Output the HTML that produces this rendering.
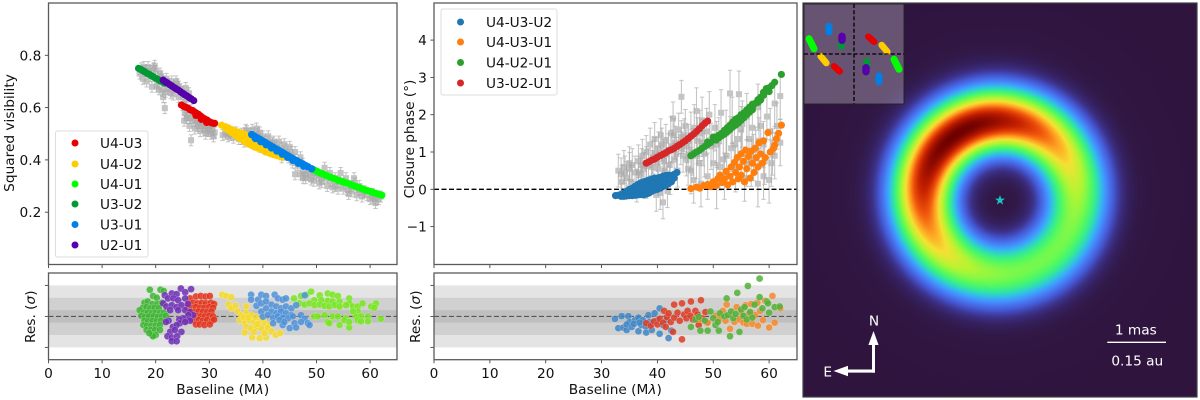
<!DOCTYPE html>
<html lang="en">
<head>
<meta charset="utf-8">
<title>Interferometric fit and disc image</title>
<style>
html,body{margin:0;padding:0;background:#fff;}
#stage{position:relative;width:1200px;height:400px;overflow:hidden;background:#fff;}
#disc-canvas{position:absolute;left:803px;top:3px;width:394px;height:394px;display:block;}
#plot{position:absolute;left:0;top:0;}
text{font-family:"DejaVu Sans","Liberation Sans",sans-serif;fill:#111;}
</style>
</head>
<body>
<div id="stage">
<canvas id="disc-canvas" width="394" height="394"></canvas>
<svg id="plot" width="1200" height="400" viewBox="0 0 1200 400" xmlns="http://www.w3.org/2000/svg"></svg>
</div>
<script>
// ---------- tick labels ----------
const baselineTicks = [0,10,20,30,40,50,60];
const visTicks = [0.2,0.4,0.6,0.8];
const phaseTicks = [-1,0,1,2,3,4];
const resTicks = [-5,0,5];
const resBands = [5,3,1];

// ---------- squared visibility: observed ----------
const visObsX = [17,17.3,17.6,18,18.3,18.6,19,19.3,19.6,20,20.3,20.6,21,21.2,21.4,21.7,22,22.3,22.6,23,23.3,23.6,24,24.3,24.6,25,25,25.3,25.5,25.8,26,26.6,26.3,26.6,27,27.3,27.6,28,28.3,28.6,29,29.3,29.6,30,30.3,30.6,31,32.5,33,33.5,34,34.5,35,35.5,36,36.5,37,37.5,38,38.5,39,39.5,40,40.5,41,41.5,42,42.5,43,43.5,44,44.5,45,45.5,46,46.5,47,46,47,47.5,48,48.5,49,49.5,50,50.5,51,51.5,52,52.5,53,53.5,54,54.5,55,55.5,56,56.5,57,57.5,58,58.5,59,60,60.5,61,61,62,17.8,18.8,19.8,20.8,20.2,21.6,21.8,22.8,23.8,24.3,25.2,25.6,26.2,25.4,25.8,26.4,27,27.4,27.8,28.2,28.6,29.2,29.8,30.2,30.8,33.6,34.8,36,36.8,37.8,38.8,39.4,40.2,41,41.8,42.6,43.4,44.2,44.8,45.2,46,47.4,47.5,48,48.8,49.6,50.4,51,51.8,52.6,53.4,54.2,55,55.8,56.6,57.2,57.8,58.6,59.4,60.4,61.6];
const visObsY = [0.73,0.75,0.71,0.74,0.70,0.755,0.72,0.68,0.75,0.74,0.70,0.67,0.72,0.665,0.64,0.598,0.71,0.67,0.69,0.70,0.65,0.68,0.69,0.64,0.67,0.61,0.66,0.55,0.60,0.63,0.57,0.475,0.53,0.59,0.55,0.52,0.57,0.54,0.51,0.55,0.53,0.50,0.535,0.52,0.50,0.515,0.505,0.495,0.50,0.49,0.495,0.485,0.505,0.48,0.50,0.47,0.51,0.47,0.515,0.46,0.50,0.45,0.49,0.44,0.49,0.44,0.47,0.43,0.47,0.41,0.46,0.42,0.45,0.39,0.43,0.38,0.41,0.345,0.345,0.33,0.33,0.36,0.325,0.32,0.345,0.31,0.33,0.37,0.30,0.35,0.295,0.33,0.29,0.35,0.29,0.33,0.27,0.30,0.33,0.265,0.30,0.26,0.28,0.25,0.27,0.25,0.235,0.26,0.755,0.74,0.76,0.73,0.68,0.70,0.66,0.655,0.70,0.68,0.645,0.675,0.655,0.58,0.56,0.56,0.58,0.55,0.53,0.56,0.53,0.515,0.51,0.53,0.49,0.50,0.50,0.48,0.515,0.50,0.52,0.505,0.47,0.47,0.465,0.45,0.445,0.44,0.41,0.43,0.40,0.385,0.35,0.345,0.34,0.35,0.34,0.315,0.335,0.32,0.30,0.315,0.31,0.285,0.28,0.31,0.285,0.275,0.265,0.255,0.25];
const visObsErr = 0.021;

// ---------- squared visibility: model ----------
const visU4U3X = [24.8,25.2,25.6,26,26.4,26.8,27.2,27.6,28,28.4,28.8,29.2,29.6,30,30.4,30.8,31,27.5,28.5,29.5];
const visU4U3Y = [0.61,0.605,0.602,0.598,0.592,0.589,0.584,0.578,0.574,0.567,0.561,0.556,0.552,0.546,0.542,0.54,0.54,0.57,0.555,0.543];
const visU4U2X = [32.3,33,33.6,34.2,34.8,35.4,36,36.6,37.2,37.8,38.4,39,33,33.6,34.2,34.8,35.4,36,36.6,37.2,37.8,38.4,39,39.6,40.2,40.8,41.4,42,42.6,43.2,43.8,35.4,36,36.6,37.2,37.8,38.4,39,39.6,40.2];
const visU4U2Y = [0.533,0.527,0.522,0.516,0.51,0.506,0.502,0.497,0.492,0.487,0.48,0.47,0.523,0.513,0.504,0.495,0.486,0.478,0.47,0.462,0.456,0.45,0.445,0.44,0.434,0.429,0.424,0.42,0.416,0.413,0.41,0.496,0.49,0.484,0.477,0.472,0.465,0.458,0.452,0.447];
const visU4U1X = [49.1,49.6,50.1,50.6,51.1,51.6,52.1,52.6,53.1,53.6,54.1,54.6,55.1,55.6,56.1,56.6,57.1,57.6,58.1,58.6,59.1,59.6,60.1,60.6,61.1,61.6,62.2];
const visU4U1Y = [0.366,0.361,0.356,0.351,0.347,0.342,0.338,0.334,0.33,0.326,0.322,0.318,0.315,0.312,0.308,0.304,0.3,0.296,0.293,0.289,0.285,0.282,0.279,0.275,0.272,0.269,0.265];
const visU3U2X = [16.8,17.2,17.6,18,18.4,18.8,19.2,19.6,20,20.4,20.8,21.2,21.6];
const visU3U2Y = [0.75,0.746,0.741,0.736,0.731,0.727,0.722,0.717,0.712,0.708,0.703,0.699,0.694];
const visU3U1X = [37.9,38.4,38.9,39.4,39.9,40.4,40.9,41.4,41.9,42.4,42.9,43.4,43.9,44.4,44.9,45.4,45.9,46.4,46.9,47.4,47.9,48.4,49.1,38.6,39.6,40.6,41.6,42.6,43.6,44.6,45.6,46.6,47.6];
const visU3U1Y = [0.497,0.491,0.485,0.479,0.473,0.467,0.461,0.455,0.449,0.443,0.437,0.431,0.425,0.419,0.413,0.407,0.401,0.396,0.39,0.385,0.379,0.374,0.366,0.482,0.47,0.458,0.446,0.434,0.422,0.41,0.398,0.387,0.376];
const visU2U1X = [21.4,21.8,22.2,22.6,23,23.4,23.8,24.2,24.6,25,25.4,25.8,26.2,26.6,27.1];
const visU2U1Y = [0.705,0.699,0.694,0.688,0.683,0.677,0.672,0.667,0.661,0.655,0.65,0.645,0.639,0.634,0.627];

// ---------- squared visibility: residuals ----------
const resU4U3X = [26.4,27.5,28.4,29.3,30.1,26.2,27,27.8,28.6,29.4,30.3,30.9,25.9,26.7,27.5,28.3,29.1,30,30.7,26.4,27.2,28,28.8,29.6,30.4,26,26.8,27.6,28.4,29.2,30,30.7,25.6,27.2,28,28.8,29.6,30.5,27.5,28.2,29.1,30.1,30.9];
const resU4U3Y = [2.9,3.2,3.3,3.2,3.3,2.1,2.2,2.1,2.2,2.1,2.2,2.0,1.4,1.4,1.5,1.4,1.4,1.5,1.4,.7,.7,.8,.7,.7,.8,0,0,.1,0,0,.1,0,-.7,-.7,-.6,-.7,-.6,-.7,-1.3,-1.3,-1.4,-1.3,-.5];
const resU4U2X = [32.4,33.2,34.1,33.6,34.1,34.9,36.9,35.3,35.96,36.9,37.8,35.7,36.6,37.5,38.4,39.4,40.3,41.2,36.9,37.8,38.8,39.7,40.9,36.6,38,38.3,39.4,40.6,40.3,41.6,42.4,43.2,36.4,37.2,38.6,39,40];
const resU4U2Y = [3.5,3.3,3.1,1.9,1.3,1.7,1.6,.8,.2,.5,.2,-.6,-.9,-.6,-.9,-.6,-1.1,-1.4,-1.7,-1.9,-1.7,-1.9,-1.9,-2.6,-3.4,-2.5,-3.5,-3.4,-2.7,-2.4,-3,-2.7,-.1,-.2,-.1,-1.2,-.4];
const resU4U1X = [45.8,47.1,48.1,49,50.6,52.1,53,54,56.1,49.6,50.9,52.1,53,54.3,56.1,46.8,47.8,48.7,49.6,50.6,51.5,52.4,53.4,54.3,55.5,56.8,57.7,58.6,60.2,61.1,57.7,56.8,49.6,50.2,51.5,53,54,55.5,57.4,58.3,59.6,62,52.1,52.4,54.3,55.2,56.1,56.1,57.7,58.3,59.6,60.8];
const resU4U1Y = [2.9,3.3,3.5,4,3.4,3.7,3.5,3.3,2.9,2.6,2.6,2.5,2.4,2.4,2.1,2.1,1.9,2.1,1.8,1.9,1.7,1.6,1.8,1.6,1.8,1.6,1.6,2.1,1.6,2.1,.8,.8,0,0,.2,0,0,-.3,0,0,0,-.4,-.9,-1.1,-1.4,-.6,-1.8,-.9,-.6,-.8,-.8,1.4];
const resU3U2X = [18.9,20.9,21.5,19.5,20.2,17.9,18.5,19.4,20.3,21.2,17.6,18.3,19,19.8,20.6,17,17.8,18.5,19.3,20,20.8,21.5,17.3,18,18.8,19.6,20.4,21.2,21.9,17.9,18.6,19.4,20.2,21,17.7,18.4,19.2,20,20.8,18.3,19.1,19.9,20.8,19.3,20,19.5,18.8];
const resU3U2Y = [4.3,4.3,4.1,3.3,3,2.2,2.4,2,2,2.2,1.4,1.5,1.3,1.4,1.3,1,.6,.6,.5,.6,.5,.6,.1,-.1,0,0,-.1,0,.1,-.7,-.8,-.7,-.8,-.7,-1.4,-1.5,-1.5,-1.5,-1.4,-2.2,-2.2,-2.2,-2.2,-3,-3,-3.2,-2.7];
const resU3U1X = [37.8,39.1,39.7,40.6,42.2,42.8,43.7,44.3,47.8,37.8,38.8,39.7,40.6,41.6,42.5,43.4,44.3,45.3,46.2,39.7,40.6,41.6,42.5,43.4,44.3,45.3,40,40.9,41.9,42.8,43.7,44.7,45.6,47.1,47.8,41.9,43.7,45,45.9,47.1,48.4,48.7,46.2,43.1,44];
const resU3U1Y = [3.5,2.7,3.5,3.3,3.5,2.9,2.7,2.9,3.4,2.7,1.7,2.1,2.4,1.9,1.6,1.3,1.6,1.3,1.8,.8,1.3,.8,.5,.8,.5,.2,-.05,.2,-.2,0,-.2,-.3,0,.2,-.4,-1.1,-1.4,-1.9,-1.1,-.9,-1.1,-1.4,-1.8,-.6,-.9];
const resU2U1X = [24.7,26.6,25.5,21.7,23,23.9,21.4,22.3,23.3,24.2,25.5,22,23,23.9,24.8,26,22.7,24.2,25.5,26.4,27,26.1,26.1,25.1,24.4,26.4,22.4,21.9,24.5,25.5,23.2,23.9,22.7,23.6,24.8,22.2,23,24,23,23.9];
const resU2U1Y = [4.5,4.4,3.9,3.4,3.7,3.6,2.1,2.9,2.9,2.6,2.9,1.6,1.8,1.5,1.8,2,1,1,1,.7,.2,.2,-.5,-.3,-.5,-.7,-.7,-.9,-1.1,-.9,-1.7,-1.4,-2.5,-2.2,-2.5,-3.2,-3.4,-3.2,-4,-4];

// ---------- closure phase: observed ----------
const phaseObsX = [33,33.5,34,34.5,35,35.3,35.5,36,36.3,36.6,37,37.3,37.6,38,38,38.4,38.7,39,39.2,39.5,39.8,40,40.2,40.5,40.6,41,41,41.3,41.5,41.8,42,42.3,42.4,42.8,43,43.2,43.6,44.3,44.3,44.6,45,45.3,45.5,46,46,46.5,47,47.2,47.5,47.8,48,48.4,48.8,49,49.3,49.6,50,50.3,50.6,51,51.4,51.8,52,52.3,53,53.4,53.8,54,54.6,55,55,55.6,56,56.4,56.8,57,57.6,58,58,58.5,59,59,59.6,60,60.4,60.6,61,61.4,62,62,39,39.6,40.2,40.8,41.2,41.6,42.2,42.6,43,43.4,43.8,44.2,44.8,45.2,45.6,46.2,46.6,47,47.6,48.2,33.6,34.2,35,36.6,37.2,38,50.6,51.2,52.4,53.2,54.4,55.2,56,57.2,58.2,59.2,60.2,61];
const phaseObsY = [0.5,0.4,0.6,0.3,0.55,0.2,0.65,0.45,0.1,0.75,0.4,0.9,0.55,0.2,1,0.65,1.2,0.3,0.85,1.35,-0.15,0.7,1.1,-0.1,1.45,0.9,-0.35,0.5,1.3,-0.05,1.05,0.3,1.5,1.9,0.8,1.25,0.5,2.48,1.4,0.9,1.7,1.15,0.55,1.45,0.5,0.25,2.1,1.3,0.7,0.15,1.85,0.95,1.55,0.35,2,1.15,0.7,1.65,0.1,1.3,2.05,0.8,0.35,1.5,2.57,1.85,1.2,0.55,2.55,1.6,0.95,0.3,1.95,1.35,0.7,1.65,1.05,0.15,2.2,1.7,0.35,1.2,1.95,0.25,0.7,1,2.3,1.7,2.5,1.25,0.6,0.95,0.55,1.2,0.75,0.95,0.65,1.15,1.45,0.95,1.6,1.1,1.45,0.8,1.3,1,1.65,0.9,1.5,1.25,0.2,0.45,0.7,0.45,0.65,0.7,1.2,0.6,0.9,1.1,1.35,1.75,0.7,0.85,1.3,0.75,1.55,0.9];
const phaseErrNear = 0.44;
const phaseErrFar = 0.62;

// ---------- closure phase: model ----------
const phaseU4U3U2X = [32.5,33,33.5,34,34.5,35,35.5,36,36.5,37,37.5,38,38.5,39,39.5,40,40.5,41,41.5,42,42.5,43,43.5,33.5,34,34.5,35,35.5,36,36.5,37,37.5,38,38.5,39,39.5,40,40.5,41,41.5,42,42.5,43,35,35.5,36,36.5,37,37.5,38,38.5,39,39.5,40,40.5,41,41.5];
const phaseU4U3U2Y = [-0.17,-0.16,-0.14,-0.1,-0.05,0,0.03,0.08,0.13,0.17,0.2,0.22,0.25,0.27,0.3,0.3,0.32,0.35,0.37,0.38,0.37,0.4,0.45,-0.19,-0.19,-0.18,-0.17,-0.17,-0.16,-0.15,-0.14,-0.15,-0.13,-0.1,-0.05,-0.02,0,0.03,0.08,0.1,0.15,0.2,0.3,-0.08,-0.06,-0.04,-0.01,0.02,0.03,0.05,0.08,0.11,0.14,0.16,0.18,0.22,0.24];
const phaseU4U3U1X = [46,47,47.6,48.3,49,49.5,50,50.5,50.8,51.2,51.6,52,52.3,52.6,53,53.2,53.5,53.8,54,54.3,54.5,54.7,55,55,55.4,55.6,55.8,56,56.3,56.6,56.8,57,57.3,57.5,57.7,58,58.2,58.5,58.8,59,59.3,59.8,60.2,60.8,61,61.3,61.7,62.2];
const phaseU4U3U1Y = [0.02,0.06,0.03,0.1,0.13,0.07,0.2,0.1,0.28,0.38,0.18,0.28,0.48,0.12,0.35,0.6,0.2,0.72,0.45,0.85,0.28,0.6,0.95,0.38,0.75,0.2,1.05,0.55,0.88,0.3,1.02,0.7,0.45,1.1,0.85,0.6,1.25,0.95,0.7,1.3,0.85,1.52,1,1.1,1.18,1.35,1.5,1.72];
const phaseU4U2U1X = [46,46.5,47,47.5,48,48.5,49,49,49.5,50,50,50.5,50.5,51,51,51.5,51.5,52,52,52.5,52.5,53,53,53.5,53.5,54,54,54.5,54.5,55,55,55.5,55.5,56,56,56.5,56.5,57,57,57.5,58,58.5,59,59.5,60,60.5,61,62.2,53,54,55,56,57,58,58.5,59,60];
const phaseU4U2U1Y = [0.9,0.95,1,1.04,1.1,1.15,1.2,1.27,1.25,1.33,1.4,1.4,1.32,1.45,1.38,1.5,1.43,1.58,1.48,1.65,1.54,1.72,1.6,1.8,1.67,1.88,1.72,1.92,1.78,2,1.85,2.05,1.92,2.13,2,2.2,2.07,2.28,2.13,2.3,2.4,2.47,2.52,2.7,2.72,2.78,2.87,3.08,1.66,1.8,1.93,2.06,2.2,2.33,2.4,2.6,2.62];
const phaseU3U2U1X = [38,38.5,39,39.5,40,40.5,41,41.5,42,42.5,43,43.5,44,44.5,45,45.5,46,46.5,47,47.5,48,48.5,49];
const phaseU3U2U1Y = [0.7,0.74,0.78,0.81,0.86,0.9,0.94,0.98,1.03,1.06,1.1,1.15,1.2,1.25,1.3,1.36,1.42,1.48,1.55,1.62,1.7,1.77,1.83];

// ---------- closure phase: residuals ----------
const cpResBlueX = [32.4,33.6,34.8,33,33.9,34.5,35,36,36.6,34.5,35.4,36.6,37.1,38,39,37.4,38.4,38.6,39.5,40.4,40.1,40.4,41,42,42.5,41.6,35.8,36.8,37.9,38.9];
const cpResBlueY = [-0.4,0.05,0.05,-1.9,-1.8,-2.2,-0.9,-0.6,-0.2,-1.3,-1.7,-2.4,-1.4,-2.6,-2.2,-0.6,0.2,-0.9,0.5,1.3,-0.6,-2.8,-1.4,-3.5,-2.3,-0.6,-1.2,-1,-1.6,-1.1];
const cpResOrangeX = [47.5,49,50.4,51,51.7,52.2,52.4,53,53.3,53.8,54.2,54.7,55,55.4,55.8,56,56.4,56.8,57,57.5,57.9,58,58.4,58.9,59.3,60,60.6,61,62];
const cpResOrangeY = [-0.5,-1,0.1,-0.5,0.9,-0.7,1.9,-2,0.3,-0.9,1.5,-0.5,0.7,-1,1.8,-1.2,0.4,2,-1.2,0.2,2.2,-1.5,0.9,-0.6,2.5,-1.8,3.3,-1,1.3];
const cpResRedX = [38,38.8,39.4,40,40.4,41,41.2,41.7,42,42.4,43,43,43.6,44,44.4,44.4,44.8,45.2,45.4,45.9,46,46.4,46.8,47.2,47.8,47.4,48,48.6,48.9,47.4,42.8,41.5];
const cpResRedY = [-1.1,-1.5,-0.8,-1.3,-0.4,-1,0.9,-0.1,0.5,-0.9,1.9,-0.2,0.6,-0.7,2.1,-3.7,0.3,-0.3,0.9,0.1,2.4,-0.5,0.9,0.3,2.6,-0.7,-0.3,0.7,-1,-1.4,-2.5,-1.7];
const cpResGreenX = [46,46.8,47.4,47.7,48.5,49,49.5,50,50.4,50.8,51,51.2,52,52.4,52.6,53,53.2,53.6,54,54.3,54.7,55,55.4,55.6,56.2,56,56.6,57.4,57,58.3,58.3,58.8,59.6,59.8,60,61,61.9];
const cpResGreenY = [-1.7,-0.5,-0.1,-2.3,-0.7,-2.3,0.8,-0.3,-1.4,-0.9,-2.3,0.5,0,2.9,0.2,-3.2,0.8,-0.3,0.4,3.8,-2.5,1.1,0.1,1.5,4.9,-0.5,0.7,1.9,-0.2,6.1,3.1,1.3,2.4,2.1,0.6,1.5,1.6];

// ---------- u-v coverage inset (half tracks, mirrored through the origin) ----------
const uvRedU = [18.6,26];
const uvRedV = [22.5,16];
const uvYellowU = [36,43.3];
const uvYellowV = [11.7,3];
const uvLimeU = [52,58.5];
const uvLimeV = [-6.9,-19.9];
const uvGreenU = [16.5,16.5];
const uvGreenV = [-10,-14.3];
const uvBlueU = [32.5,32.5];
const uvBlueV = [-28.6,-36];
const uvPurpleU = [15.6,15.6];
const uvPurpleV = [-17.8,-23];

// ---------- axis functions ----------
const xL = v => 48.5 + v * 5.36;
const xM = v => 434 + v * 5.585;
const yVis = v => 264.5 - v * 261.5;
const yPhase = v => 189.3 - v * 37.3;
const yRes = v => 316.4 - v * 6.2;
const uvX = u => 854 + u * 0.769;
const uvY = v => 54 - v * 0.769;

const svg = document.getElementById('plot');
const NS = 'http://www.w3.org/2000/svg';
const FS = 13.7;
function el(tag, attrs, parent) {
  const n = document.createElementNS(NS, tag);
  for (const k in attrs) n.setAttribute(k, attrs[k]);
  (parent || svg).appendChild(n);
  return n;
}
function group(name) {
  const g = el('g', {});
  
  
  return g;
}
function label(parent, name, str, x, y, size, anchor, rot) {
  const t = el('text', {x: x, y: y, 'font-size': size, 'text-anchor': anchor || 'middle'}, parent);
  if (rot) t.setAttribute('transform', 'rotate(-90 ' + x + ' ' + y + ')');
  t.textContent = str;
  
  
  return t;
}
function frame(name, x0, y0, x1, y1) {
  const r = el('rect', {x: x0, y: y0, width: x1 - x0, height: y1 - y0, fill: 'none', stroke: '#5a5a5a', 'stroke-width': 1.3});
  
  
}
function xTicks(g, fx, yb, withLabels) {
  baselineTicks.forEach(v => {
    const t = el('line', {x1: fx(v), x2: fx(v), y1: yb, y2: yb + 3.6, stroke: '#444', 'stroke-width': 0.9}, g);
    
    
    if (withLabels) label(g, 'x-tick-label', String(v), fx(v), 378, FS);
  });
}
function yTicks(g, x0, fy, vals, fmt) {
  vals.forEach(v => {
    const t = el('line', {x1: x0 - 3.6, x2: x0, y1: fy(v), y2: fy(v), stroke: '#444', 'stroke-width': 0.9}, g);
    
    
    if (fmt) label(g, 'y-tick-label', fmt(v), x0 - 7.2, fy(v) + 5, FS, 'end');
  });
}
function dots(g, name, xs, ys, fx, fy, r, fill, extra) {
  const n = Math.min(xs.length, ys.length);
  for (let i = 0; i < n; i++) {
    const c = el('circle', Object.assign({cx: fx(xs[i]), cy: fy(ys[i]), r: r, fill: fill}, extra || {}), g);
    
    
  }
}
function grayBars(g, name, xs, ys, fx, fy, errFor) {
  const n = Math.min(xs.length, ys.length);
  for (let i = 0; i < n; i++) {
    const px = fx(xs[i]);
    const e = errFor(xs[i]);
    const top = fy(ys[i] + e), bot = fy(ys[i] - e);
    const pt = el('g', {opacity: 0.68}, g);
    
    
    el('line', {x1: px, x2: px, y1: top, y2: bot, stroke: '#a8a8a8', 'stroke-width': 1.1}, pt);
    el('line', {x1: px - 2.2, x2: px + 2.2, y1: top, y2: top, stroke: '#a8a8a8', 'stroke-width': 1}, pt);
    el('line', {x1: px - 2.2, x2: px + 2.2, y1: bot, y2: bot, stroke: '#a8a8a8', 'stroke-width': 1}, pt);
    el('rect', {x: px - 3, y: fy(ys[i]) - 3, width: 6, height: 6, fill: '#a8a8a8'}, pt);
  }
}
function bands(g, x0, x1) {
  const shades = ['#e4e4e4', '#d0d0d0', '#bfbfbf'];
  resBands.forEach((b, i) => {
    const r = el('rect', {x: x0, y: yRes(b), width: x1 - x0, height: yRes(-b) - yRes(b), fill: shades[i]}, g);
    
    
  });
}
function zeroLine(g, x0, x1, y, color, w, dash) {
  const l = el('line', {x1: x0, x2: x1, y1: y, y2: y, stroke: color, 'stroke-width': w, 'stroke-dasharray': dash}, g);
  
  
}
function mathLabel(g, name, before, sym, after, x, y, size, rot) {
  const t = label(g, name, '', x, y, size, 'middle', rot);
  t.appendChild(document.createTextNode(before));
  const s = el('tspan', {'font-style': 'italic'}, t);
  s.textContent = sym;
  t.appendChild(document.createTextNode(after));
}
function legend(name, x0, y0, w, h, entries, dotX, textX, ys) {
  const g = group(name);
  const box = el('rect', {x: x0, y: y0, width: w, height: h, rx: 2, fill: '#fff', 'fill-opacity': 0.85, stroke: '#ddd', 'stroke-width': 1}, g);
  
  
  entries.forEach((e, i) => {
    const c = el('circle', {cx: dotX, cy: ys[i], r: 3.5, fill: e[1]}, g);
    
    
    label(g, 'legend-entry', e[0], textX, ys[i] + 5, FS, 'start');
  });
}

// ---------- left top panel ----------
const gVis = group('visibility-panel');
grayBars(gVis, 'observed-visibility', visObsX, visObsY, xL, yVis, () => visObsErr);
const C_RED = '#e60000', C_YEL = '#ffcc00', C_LIME = '#00ff00', C_GRN = '#009933', C_BLU = '#0080e6', C_PUR = '#5500aa';
dots(gVis, 'model-u4-u3', visU4U3X, visU4U3Y, xL, yVis, 3.6, C_RED);
dots(gVis, 'model-u4-u2', visU4U2X, visU4U2Y, xL, yVis, 3.6, C_YEL);
dots(gVis, 'model-u4-u1', visU4U1X, visU4U1Y, xL, yVis, 3.6, C_LIME);
dots(gVis, 'model-u3-u2', visU3U2X, visU3U2Y, xL, yVis, 3.6, C_GRN);
dots(gVis, 'model-u3-u1', visU3U1X, visU3U1Y, xL, yVis, 3.7, C_BLU);
dots(gVis, 'model-u2-u1', visU2U1X, visU2U1Y, xL, yVis, 3.6, C_PUR);
frame('visibility-frame', 48.5, 3, 397, 264.5);
xTicks(gVis, xL, 264.5, false);
yTicks(gVis, 48.5, yVis, visTicks, v => v.toFixed(1));
label(gVis, 'y-axis-title', 'Squared visibility', 14, 133, FS, 'middle', true);
legend('visibility-legend', 55.5, 131, 92.5, 126, [['U4-U3', C_RED], ['U4-U2', C_YEL], ['U4-U1', C_LIME], ['U3-U2', C_GRN], ['U3-U1', C_BLU], ['U2-U1', C_PUR]], 75, 100, [143, 164, 184, 204, 224.5, 245]);

// ---------- left residual panel ----------
const gResL = group('visibility-residual-panel');
bands(gResL, 48.5, 397);
zeroLine(gResL, 48.5, 397, yRes(0), '#555', 1.1, '5 2.5');
const resStyle = {'fill-opacity': 0.85, stroke: '#fff', 'stroke-opacity': 0.4, 'stroke-width': 0.5};
dots(gResL, 'residual-u4-u3', resU4U3X, resU4U3Y, xL, yRes, 3.5, '#e2341c', resStyle);
dots(gResL, 'residual-u4-u2', resU4U2X, resU4U2Y, xL, yRes, 3.5, '#f5d92c', resStyle);
dots(gResL, 'residual-u4-u1', resU4U1X, resU4U1Y, xL, yRes, 3.5, '#78e620', resStyle);
dots(gResL, 'residual-u3-u2', resU3U2X, resU3U2Y, xL, yRes, 3.5, '#3fb534', resStyle);
dots(gResL, 'residual-u3-u1', resU3U1X, resU3U1Y, xL, yRes, 3.5, '#4f92d8', resStyle);
dots(gResL, 'residual-u2-u1', resU2U1X, resU2U1Y, xL, yRes, 3.5, '#6f2fb5', resStyle);
frame('visibility-residual-frame', 48.5, 273, 397, 359.7);
xTicks(gResL, xL, 359.7, true);
yTicks(gResL, 48.5, yRes, resTicks, null);
mathLabel(gResL, 'y-axis-title', 'Res. (', 'σ', ')', 35, 316.7, FS, true);
mathLabel(gResL, 'x-axis-title', 'Baseline (M', 'λ', ')', 222.7, 394, FS, false);

// ---------- middle top panel ----------
const gPhase = group('closure-phase-panel');
grayBars(gPhase, 'observed-closure-phase', phaseObsX, phaseObsY, xM, yPhase, x => x < 46 ? phaseErrNear : phaseErrFar);
zeroLine(gPhase, 434, 797, yPhase(0), '#000', 1.3, '5 2.5');
const T_BLU = '#1f77b4', T_ORG = '#ff7f0e', T_GRN = '#2ca02c', T_RED = '#d62728';
dots(gPhase, 'model-u4-u3-u2', phaseU4U3U2X, phaseU4U3U2Y, xM, yPhase, 3.6, T_BLU);
dots(gPhase, 'model-u4-u3-u1', phaseU4U3U1X, phaseU4U3U1Y, xM, yPhase, 3.6, T_ORG);
dots(gPhase, 'model-u4-u2-u1', phaseU4U2U1X, phaseU4U2U1Y, xM, yPhase, 3.6, T_GRN);
dots(gPhase, 'model-u3-u2-u1', phaseU3U2U1X, phaseU3U2U1Y, xM, yPhase, 3.6, T_RED);
frame('closure-phase-frame', 434, 3, 797, 264.5);
xTicks(gPhase, xM, 264.5, false);
yTicks(gPhase, 434, yPhase, phaseTicks, v => v < 0 ? '\u2212' + Math.abs(v) : String(v));
label(gPhase, 'y-axis-title', 'Closure phase (°)', 414, 139, FS, 'middle', true);
legend('closure-phase-legend', 441, 9, 116, 86, [['U4-U3-U2', T_BLU], ['U4-U3-U1', T_ORG], ['U4-U2-U1', T_GRN], ['U3-U2-U1', T_RED]], 460.5, 486, [22, 42, 62.5, 83]);

// ---------- middle residual panel ----------
const gResM = group('closure-phase-residual-panel');
bands(gResM, 434, 797);
zeroLine(gResM, 434, 797, yRes(0), '#555', 1.1, '5 2.5');
dots(gResM, 'residual-u4-u3-u2', cpResBlueX, cpResBlueY, xM, yRes, 3.5, '#3f86c4', resStyle);
dots(gResM, 'residual-u3-u2-u1', cpResRedX, cpResRedY, xM, yRes, 3.5, '#dd3c24', resStyle);
dots(gResM, 'residual-u4-u3-u1', cpResOrangeX, cpResOrangeY, xM, yRes, 3.5, '#f58a2a', resStyle);
dots(gResM, 'residual-u4-u2-u1', cpResGreenX, cpResGreenY, xM, yRes, 3.5, '#52b038', resStyle);
frame('closure-phase-residual-frame', 434, 273, 797, 359.7);
xTicks(gResM, xM, 359.7, true);
yTicks(gResM, 434, yRes, resTicks, null);
mathLabel(gResM, 'y-axis-title', 'Res. (', 'σ', ')', 420, 316.7, FS, true);
mathLabel(gResM, 'x-axis-title', 'Baseline (M', 'λ', ')', 615.3, 394, FS, false);

// ---------- disc image ----------
(function () {
  const cv = document.getElementById('disc-canvas');
  const ctx = cv.getContext('2d');
  const W = cv.width, H = cv.height;
  const img = ctx.createImageData(W, H);
  const stops = [[0,47,20,62],[0.03,49,24,70],[0.07,54,34,98],[0.11,60,48,135],[0.18,70,90,215],[0.27,70,140,255],[0.34,50,190,235],[0.42,50,235,150],[0.5,90,250,90],[0.6,180,245,50],[0.68,245,225,50],[0.75,255,160,35],[0.82,240,85,12],[0.9,195,30,0],[1,110,0,0]];
  function cmap(t) {
    t = Math.max(0, Math.min(1, t));
    for (let i = 1; i < stops.length; i++) {
      if (t <= stops[i][0]) {
        const a = stops[i - 1], b = stops[i];
        const f = (t - a[0]) / (b[0] - a[0]);
        return [a[1] + (b[1] - a[1]) * f, a[2] + (b[2] - a[2]) * f, a[3] + (b[3] - a[3]) * f];
      }
    }
    return stops[stops.length - 1].slice(1);
  }
  const cx = 196, cy = 193.7, R = 76;
  const th0 = 125 * Math.PI / 180;
  for (let y = 0; y < H; y++) {
    for (let x = 0; x < W; x++) {
      const dx = x - cx, dy = y - cy;
      const r = Math.hypot(dx, dy);
      const th = Math.atan2(-dy, dx);
      const f = Math.pow((1 + Math.cos(th - th0)) / 2, 1.3);
      const A = 0.53 + 0.47 * f;
      const d = r - R;
      const S = d > 0 ? 23.5 : 22;
      const I = A * (0.93 * Math.exp(-d * d / (2 * S * S)) + 0.07 * Math.exp(-d * d / (2 * 2500)));
      const c = cmap(I);
      const k = (y * W + x) * 4;
      img.data[k] = c[0];
      img.data[k + 1] = c[1];
      img.data[k + 2] = c[2];
      img.data[k + 3] = 255;
    }
  }
  ctx.putImageData(img, 0, 0);
})();

const gImg = group('disc-image-annotations');
const imgFrame = el('rect', {x: 803, y: 3, width: 394, height: 394, fill: 'none', stroke: '#444', 'stroke-width': 1.2}, gImg);



// inset
const gInset = group('uv-coverage-inset');
const insetBg = el('rect', {x: 804, y: 4, width: 100, height: 100, fill: '#ffffff', 'fill-opacity': 0.27, stroke: '#222', 'stroke-width': 0.9}, gInset);


function uvTrack(name, us, vs, color, w) {
  [1, -1].forEach(sign => {
    const l = el('line', {x1: uvX(sign * us[0]), y1: uvY(sign * vs[0]), x2: uvX(sign * us[1]), y2: uvY(sign * vs[1]), stroke: color, 'stroke-width': w, 'stroke-linecap': 'round'}, gInset);
    
    
  });
}
uvTrack('uv-u4-u3', uvRedU, uvRedV, C_RED, 6.6);
uvTrack('uv-u4-u2', uvYellowU, uvYellowV, C_YEL, 6.6);
uvTrack('uv-u4-u1', uvLimeU, uvLimeV, C_LIME, 7);
uvTrack('uv-u3-u2', uvGreenU, uvGreenV, C_GRN, 7);
uvTrack('uv-u3-u1', uvBlueU, uvBlueV, C_BLU, 7);
uvTrack('uv-u2-u1', uvPurpleU, uvPurpleV, C_PUR, 7.4);
const crossV = el('line', {x1: 854, x2: 854, y1: 4, y2: 104, stroke: '#000', 'stroke-width': 1.3, 'stroke-dasharray': '4 2.2'}, gInset);


const crossH = el('line', {x1: 804, x2: 904, y1: 54, y2: 54, stroke: '#000', 'stroke-width': 1.3, 'stroke-dasharray': '4 2.2'}, gInset);



// star
const star = el('polygon', {points: '1000,195 1001.3,198.6 1005,198.6 1002,200.9 1003.1,204.6 1000,202.4 996.9,204.6 998,200.9 995,198.6 998.7,198.6', fill: '#1bc2c8'}, gImg);



// compass
const arrowN = el('path', {d: 'M873.5 331 L878.6 345 L875 345 L875 372.6 L872 372.6 L872 345 L868.4 345 Z', fill: '#fff'}, gImg);


const arrowE = el('path', {d: 'M833.5 371 L848 365.8 L848 369.5 L875 369.5 L875 372.6 L848 372.6 L848 376.2 Z', fill: '#fff'}, gImg);


label(gImg, 'north-label', 'N', 874, 325.5, FS).style.fill = '#fff';
label(gImg, 'east-label', 'E', 827.7, 376.5, FS).style.fill = '#fff';

// scale bar
const bar = el('line', {x1: 1107.3, x2: 1166, y1: 342.3, y2: 342.3, stroke: '#fff', 'stroke-width': 1.4}, gImg);


label(gImg, 'scale-angular-label', '1 mas', 1135.8, 334.5, FS).style.fill = '#fff';
label(gImg, 'scale-physical-label', '0.15 au', 1137.3, 365.7, FS).style.fill = '#fff';
</script>
</body>
</html>
